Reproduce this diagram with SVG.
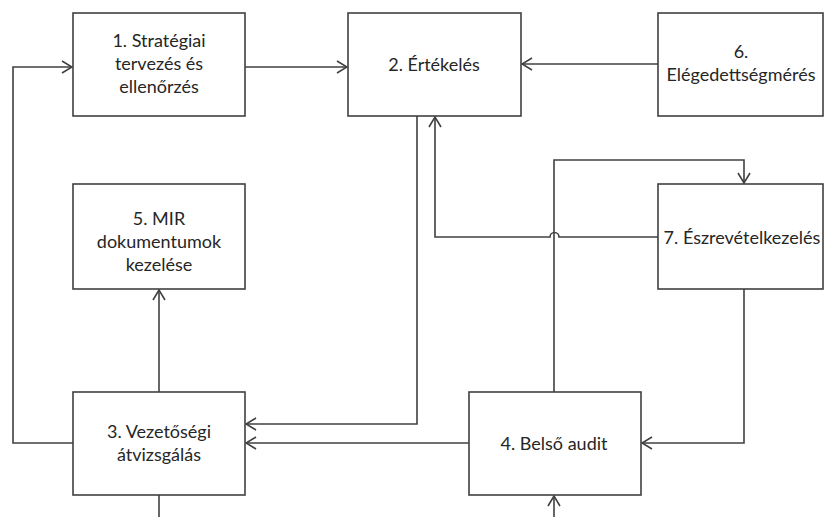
<svg xmlns="http://www.w3.org/2000/svg" width="824" height="517" viewBox="0 0 824 517">
<defs>
<marker id="arr" viewBox="0 0 12 14" refX="11" refY="7" markerWidth="12" markerHeight="14" markerUnits="userSpaceOnUse" orient="auto">
<path d="M1,1 L11,7 L1,13" fill="none" stroke="#404040" stroke-width="1.6"/>
</marker>
<style>
.box{fill:#fff;stroke:#404040;stroke-width:1.6}
.lbl{font-family:Lato,"Liberation Sans",sans-serif;font-size:18px;fill:#262626;text-anchor:middle}
.c{fill:none;stroke:#404040;stroke-width:1.6}
</style>
</defs>
<rect width="824" height="517" fill="#fff"/>
<g id="connectors">
<path class="c" d="M73,443 H13 V67 H72" marker-end="url(#arr)"/>
<path class="c" d="M245,67 H347" marker-end="url(#arr)"/>
<path class="c" d="M658,64 H522" marker-end="url(#arr)"/>
<path class="c" d="M417,116 V424 H246" marker-end="url(#arr)"/>
<path class="c" d="M658,237 H559 A4.5,4.5 0 0 0 550,237 H435 V117" marker-end="url(#arr)"/>
<path class="c" d="M554,392 V160 H744 V183" marker-end="url(#arr)"/>
<path class="c" d="M744,289 V443 H642" marker-end="url(#arr)"/>
<path class="c" d="M469,443 H246" marker-end="url(#arr)"/>
<path class="c" d="M159,392 V290" marker-end="url(#arr)"/>
<path class="c" d="M159,495 V517"/>
<path class="c" d="M554,517 V496" marker-end="url(#arr)"/>
</g>
<g id="node1">
<rect class="box" x="73" y="13" width="172" height="103"/>
<text class="lbl" x="159" y="47">1. Stratégiai</text>
<text class="lbl" x="159" y="70">tervezés és</text>
<text class="lbl" x="159" y="93">ellenőrzés</text>
</g>
<g id="node2">
<rect class="box" x="348" y="13" width="173" height="103"/>
<text class="lbl" x="434" y="71">2. Értékelés</text>
</g>
<g id="node6">
<rect class="box" x="658" y="13" width="165" height="103"/>
<text class="lbl" x="741" y="58">6.</text>
<text class="lbl" x="741" y="81">Elégedettségmérés</text>
</g>
<g id="node5">
<rect class="box" x="73" y="184" width="172" height="105"/>
<text class="lbl" x="159" y="225">5. MIR</text>
<text class="lbl" x="159" y="248">dokumentumok</text>
<text class="lbl" x="159" y="271">kezelése</text>
</g>
<g id="node7">
<rect class="box" x="658" y="184" width="165" height="105"/>
<text class="lbl" x="742" y="244">7. Észrevételkezelés</text>
</g>
<g id="node3">
<rect class="box" x="73" y="392" width="172" height="103"/>
<text class="lbl" x="159" y="438">3. Vezetőségi</text>
<text class="lbl" x="159" y="461">átvizsgálás</text>
</g>
<g id="node4">
<rect class="box" x="469" y="392" width="172" height="103"/>
<text class="lbl" x="554" y="450">4. Belső audit</text>
</g>
</svg>
